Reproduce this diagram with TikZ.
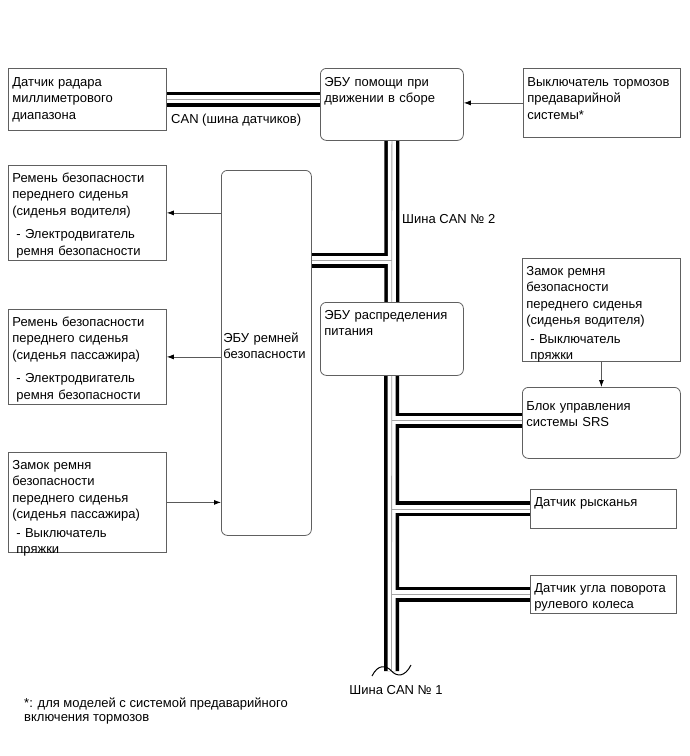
\documentclass[tikz,border=0pt]{standalone}
\usepackage{fontspec}
\setmainfont{Liberation Sans}
\usetikzlibrary{arrows.meta,backgrounds}

\tikzset{plain box/.style={draw=gray!75!black,line width=0.8pt,fill=white,anchor=north west,align=left,
  font=\fontsize{13pt}{16.5pt}\selectfont,inner xsep=4pt,inner ysep=4pt,text height=13pt},
round box/.style={plain box,rounded corners=6pt},
tall box/.style={draw=gray!75!black,line width=0.8pt,fill=white,anchor=north west,align=left,rounded corners=6pt,
  font=\fontsize{13pt}{16.5pt}\selectfont,inner xsep=2pt,inner ysep=0pt},
bus outer/.style={line width=15pt,black},
bus inner/.style={line width=8pt,white},
bus wire/.style={line width=0.8pt,gray!70},
signal/.style={draw=gray!70!black,line width=0.8pt,-{Latex[length=7pt,width=5pt,color=black]}},
bus label/.style={font=\fontsize{13pt}{16pt}\selectfont,inner sep=0pt},
note/.style={font=\fontsize{13pt}{14pt}\selectfont,align=left,inner sep=0pt}}

\begin{document}
\begin{tikzpicture}[x=1pt,y=-1pt]
\useasboundingbox (0,0) rectangle (690,756);

%% Coordinates of bus points.
\coordinate (j1) at (391.5,260);
\coordinate (j2) at (391.5,420);
\coordinate (busend) at (391.5,671);

%% units
\node [plain box,text width=150pt,text height=14pt,text depth=40pt] (radar) at (8,68) {Датчик радара\\миллиметрового\\диапазона};
\node [round box,text width=135pt,text height=14pt,text depth=50pt] (assist) at (320,68) {ЭБУ помощи при\\движении в сборе};
\node [plain box,text width=149pt,text height=14pt,text depth=47pt] (switch) at (523,68) {Выключатель тормозов\\предаварийной\\системы*};
\node [plain box,text width=150pt,text depth=74pt] (drvbelt) at (8,165) {Ремень безопасности\\переднего сиденья\\(сиденья водителя)\\[7pt]
  \hspace*{4pt}- Электродвигатель\\\hspace*{4pt}ремня безопасности};
\node [tall box,text width=86pt,text depth=31pt,minimum height=365pt] (belt) at (221,170) {ЭБУ ремней\\безопасности};
\node [plain box,text width=150pt,text depth=74pt] (pasbelt) at (8,309) {Ремень безопасности\\переднего сиденья\\(сиденья пассажира)\\[7pt]
  \hspace*{4pt}- Электродвигатель\\\hspace*{4pt}ремня безопасности};
\node [plain box,text width=150pt,text depth=79pt] (pasbuckle) at (8,452) {Замок ремня\\безопасности\\переднего сиденья\\(сиденья пассажира)\\[2pt]
  \hspace*{4pt}- Выключатель\\\hspace*{4pt}пряжки};
\node [round box,text width=135pt,text depth=52pt] (power) at (320,302) {ЭБУ распределения\\питания};
\node [plain box,text width=150pt,text depth=82pt] (drvbuckle) at (522,258) {Замок ремня\\безопасности\\переднего сиденья\\(сиденья водителя)\\[2pt]
  \hspace*{4pt}- Выключатель\\\hspace*{4pt}пряжки};
\node [round box,text width=150pt,text height=19pt,text depth=44pt] (srs) at (522,387) {Блок управления\\системы SRS};
\node [plain box,text width=138pt,text depth=18pt] (yaw) at (530,489) {Датчик рысканья};
\node [plain box,text width=138pt,text depth=17pt] (steer) at (530,575) {Датчик угла поворота\\рулевого колеса};

%% bus lines
\begin{scope}[on background layer]
\foreach \layer in {bus outer,bus inner,bus wire}{
  \draw [\layer] (radar.east) -- (radar.east -| assist.west);
  \draw [\layer] (assist.south) -- (busend);
  \draw [\layer] (belt.east |- j1) -- (j1);
  \draw [\layer] (j2) -- (j2 -| srs.west);
  \draw [\layer] (yaw.west -| busend) -- (yaw.west);
  \draw [\layer] (steer.west -| busend) -- (steer.west);
}
\end{scope}
\draw [line width=1pt] (372,676) .. controls (378,664) and (386,665) .. (391.5,671) .. controls (397,677) and (405,677) .. (411,665);

%% signal lines
\draw [signal] (switch.west) -- (switch.west -| assist.east);
\draw [signal] (belt.west |- drvbelt.east) -- (drvbelt.east);
\draw [signal] (belt.west |- pasbelt.east) -- (pasbelt.east);
\draw [signal] (pasbuckle.east) -- (pasbuckle.east -| belt.west);
\draw [signal] (drvbuckle.south) -- (drvbuckle.south |- srs.north);

%% labels
\node [bus label,anchor=west] (sensorbus) at (171,120) {CAN (шина датчиков)};
\node [bus label,anchor=west] (can2) at (402,219) {Шина CAN № 2};
\node [bus label,anchor=base] (can1) at (396,694) {Шина CAN № 1};
\node [note,anchor=north west] (footnote) at (24,698) {*: для моделей с системой предаварийного\\включения тормозов};

\end{tikzpicture}
\end{document}
